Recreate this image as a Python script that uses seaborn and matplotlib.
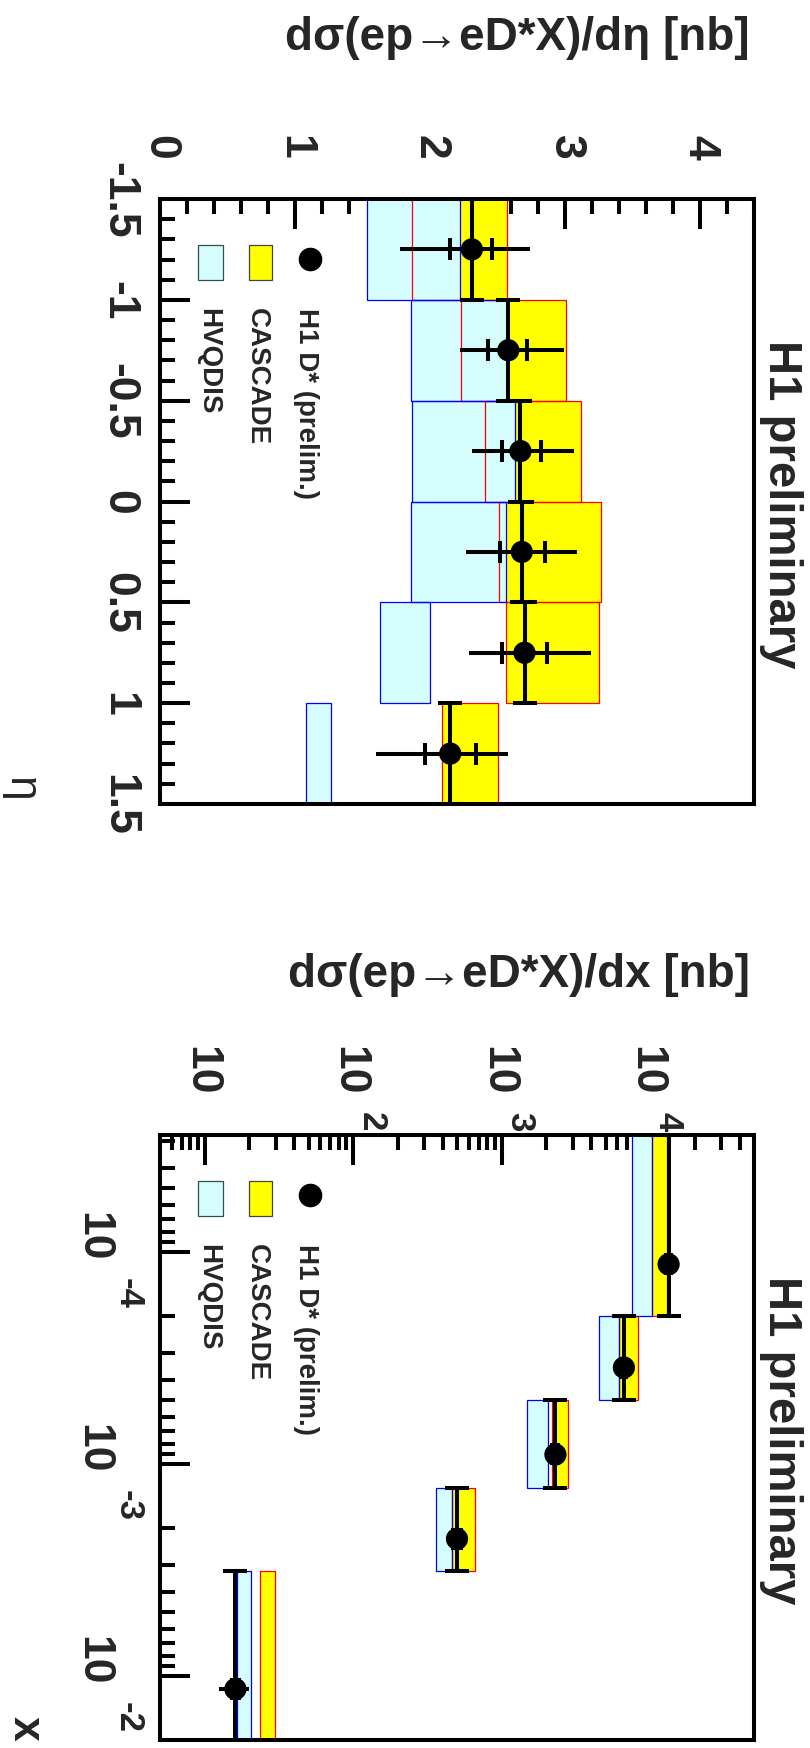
import numpy as np
import matplotlib
matplotlib.use('Agg')
import matplotlib.pyplot as plt
import seaborn as sns
from matplotlib.ticker import MultipleLocator, LogLocator, NullFormatter
from matplotlib.patches import Rectangle
from matplotlib.lines import Line2D

# ---- d sigma / d eta ----
eta_edges = [-1.5, -1.0, -0.5, 0.0, 0.5, 1.0, 1.5]
eta_centers = [-1.25, -0.75, -0.25, 0.25, 0.75, 1.25]
h1_eta = [2.31, 2.58, 2.67, 2.68, 2.70, 2.15]
h1_eta_stat_lo = [0.16, 0.15, 0.14, 0.16, 0.17, 0.19]
h1_eta_stat_hi = [0.15, 0.14, 0.15, 0.17, 0.17, 0.19]
h1_eta_tot_lo = [0.53, 0.36, 0.36, 0.41, 0.41, 0.55]
h1_eta_tot_hi = [0.43, 0.41, 0.40, 0.41, 0.49, 0.43]
hvqdis_eta_lo = [1.53, 1.86, 1.87, 1.86, 1.63, 1.08]
hvqdis_eta_hi = [2.22, 2.57, 2.63, 2.56, 2.00, 1.27]
cascade_eta_lo = [1.87, 2.23, 2.41, 2.51, 2.56, 2.09]
cascade_eta_hi = [2.57, 3.01, 3.12, 3.27, 3.25, 2.50]
eta_ticks = [-1.5, -1.0, -0.5, 0.0, 0.5, 1.0, 1.5]
eta_tick_labels = ['-1.5', '-1', '-0.5', '0', '0.5', '1', '1.5']
sig_eta_ticks = [0, 1, 2, 3, 4]
sig_eta_tick_labels = ['0', '1', '2', '3', '4']

# ---- d sigma / dx ----
x_edges = [2.8e-5, 2.0e-4, 5.0e-4, 1.3e-3, 3.2e-3, 2.0e-2]
x_centers = [1.14e-4, 3.5e-4, 9.0e-4, 2.25e-3, 1.15e-2]
h1_x = [13300, 6650, 2300, 500, 16.1]
h1_x_stat = [500, 260, 110, 30, 0.8]
h1_x_tot = [1200, 600, 230, 60, 3.7]
hvqdis_x_lo = [7500, 4500, 1490, 360, 16.5]
hvqdis_x_hi = [10300, 6200, 2050, 460, 20.5]
cascade_x_lo = [10300, 6200, 2170, 465, 23.7]
cascade_x_hi = [13000, 8300, 2810, 660, 29.6]
x_ticks = [1e-4, 1e-3, 1e-2]
x_exps = ['-4', '-3', '-2']
sig_x_ticks = [1e1, 1e2, 1e3, 1e4]
sig_x_exps = ['', '2', '3', '4']

CYAN = '#d6fdfd'
YELLOW = '#ffff00'
LW = 2.9

sns.set_style('ticks')
plt.rcParams['font.family'] = ['Liberation Sans', 'DejaVu Sans']
plt.rcParams['font.weight'] = 'bold'
plt.rcParams['axes.unicode_minus'] = False

W, H = 810, 1749
fig = plt.figure(figsize=(W / 100, H / 100), dpi=100)


def fx(px):
    return px / W


def fy(py):
    return 1 - py / H


def make_axes(top):
    ax = fig.add_axes([fx(160), fy(top + 605), (754 - 160) / W, 605 / H])
    for s in ax.spines.values():
        s.set_linewidth(LW)
        s.set_color('black')
    ax.set_axisbelow(True)
    ax.xaxis.set_ticks_position('top')
    ax.tick_params(which='both', direction='in', width=LW, color='black',
                   top=True, bottom=False, left=True, right=False,
                   labeltop=True, labelbottom=False)
    ax.tick_params(which='major', length=21.6)
    ax.tick_params(which='minor', length=10.8)
    return ax


def draw_boxes(ax, edges, lo1, hi1, lo2, hi2):
    y0 = np.array(edges[:-1])
    hgt = np.diff(edges)
    # CASCADE fill, HVQDIS fill, then both outlines
    ax.barh(y0, np.array(hi2) - np.array(lo2), left=lo2, height=hgt, align='edge',
            color=YELLOW, linewidth=0, zorder=1)
    ax.barh(y0, np.array(hi1) - np.array(lo1), left=lo1, height=hgt, align='edge',
            color=CYAN, linewidth=0, zorder=1.1)
    ax.barh(y0, np.array(hi2) - np.array(lo2), left=lo2, height=hgt, align='edge',
            fill=False, edgecolor='red', linewidth=0.9, zorder=1.2)
    ax.barh(y0, np.array(hi1) - np.array(lo1), left=lo1, height=hgt, align='edge',
            fill=False, edgecolor='blue', linewidth=0.9, zorder=1.3)


def draw_points(ax, val, centers, edges, stat_lo, stat_hi, tot_lo, tot_hi):
    val = np.array(val)
    centers = np.array(centers)
    yerr = [centers - np.array(edges[:-1]), np.array(edges[1:]) - centers]
    ax.errorbar(val, centers, yerr=yerr, fmt='none', ecolor='black',
                elinewidth=LW, capsize=8.3, capthick=LW, zorder=3)
    ax.errorbar(val, centers, xerr=[tot_lo, tot_hi], fmt='none', ecolor='black',
                elinewidth=LW, capsize=0, zorder=3)
    ax.plot(val - np.array(stat_lo), centers, '|', ms=16, mew=LW, color='black', zorder=3)
    ax.plot(val + np.array(stat_hi), centers, '|', ms=16, mew=LW, color='black', zorder=3)
    sns.scatterplot(x=val, y=centers, ax=ax, color='black', s=16 ** 2,
                    edgecolor='none', zorder=4, legend=False)


def draw_legend(top):
    fig.add_artist(Line2D([fx(310)], [fy(top + 60)], marker='o', ms=16,
                          color='black', transform=fig.transFigure))
    fig.add_artist(Rectangle((fx(249), fy(top + 81)), 23 / W, 35 / H, facecolor=YELLOW,
                             edgecolor='#444444', lw=0.9, transform=fig.transFigure))
    fig.add_artist(Rectangle((fx(198), fy(top + 81)), 25 / W, 35 / H, facecolor=CYAN,
                             edgecolor='#2f4f4f', lw=0.9, transform=fig.transFigure))
    for xc, txt in [(306, 'H1 D* (prelim.)'), (257, 'CASCADE'), (208, 'HVQDIS')]:
        fig.text(fx(xc), fy(top + 108), txt, rotation=-90, ha='center', va='top',
                 fontsize=20, fontweight='bold')


# ================= top panel: eta =================
ax1 = make_axes(200)
draw_boxes(ax1, eta_edges, hvqdis_eta_lo, hvqdis_eta_hi, cascade_eta_lo, cascade_eta_hi)
draw_points(ax1, h1_eta, eta_centers, eta_edges, h1_eta_stat_lo, h1_eta_stat_hi,
            h1_eta_tot_lo, h1_eta_tot_hi)
ax1.set_xlim(0, 4.4)
ax1.set_ylim(1.5, -1.5)
ax1.set_xticks(sig_eta_ticks, labels=sig_eta_tick_labels)
ax1.set_yticks(eta_ticks, labels=eta_tick_labels)
ax1.xaxis.set_minor_locator(MultipleLocator(0.2))
ax1.yaxis.set_minor_locator(MultipleLocator(0.1))
ax1.tick_params(axis='x', which='major', pad=28.8, labelsize=32)
ax1.tick_params(axis='y', which='major', pad=15, labelsize=32)
plt.setp(ax1.get_xticklabels(), rotation=-90, ha='center', va='bottom')
plt.setp(ax1.get_yticklabels(), rotation=-90, ha='right', va='center')
ax1.set_xlabel('')
ax1.set_ylabel('')
draw_legend(200)

fig.text(fx(750), fy(50), 'dσ(ep→eD*X)/dη [nb]', ha='right', va='baseline',
         fontsize=33, fontweight='bold')
fig.text(fx(781), fy(504), 'H1 preliminary', rotation=-90, ha='center', va='center',
         fontsize=34, fontweight='bold')
fig.text(fx(20), fy(789), 'η', rotation=-90, ha='center', va='center',
         fontsize=32, fontweight='normal')

# ================= bottom panel: x =================
ax2 = make_axes(1136)
ax2.set_xscale('log')
ax2.set_yscale('log')
draw_boxes(ax2, x_edges, hvqdis_x_lo, hvqdis_x_hi, cascade_x_lo, cascade_x_hi)
draw_points(ax2, h1_x, x_centers, x_edges, h1_x_stat, h1_x_stat, h1_x_tot, h1_x_tot)
ax2.set_xlim(5, 5e4)
ax2.set_ylim(2.0e-2, 2.8e-5)
for axis in (ax2.xaxis, ax2.yaxis):
    axis.set_major_locator(LogLocator(base=10, numticks=12))
    axis.set_minor_locator(LogLocator(base=10, subs=np.arange(2, 10), numticks=12))
    axis.set_major_formatter(NullFormatter())
    axis.set_minor_formatter(NullFormatter())
ax2.tick_params(labeltop=False, labelleft=False)
ax2.set_xlabel('')
ax2.set_ylabel('')

for t, e in zip(sig_x_ticks, sig_x_exps):
    ax2.annotate('10', xy=(t, 1), xycoords=('data', 'axes fraction'), xytext=(-4, 65),
                 textcoords='offset pixels', rotation=-90, ha='center', va='center',
                 fontsize=32, fontweight='bold', annotation_clip=False)
    if e:
        ax2.annotate(e, xy=(t, 1), xycoords=('data', 'axes fraction'), xytext=(18, 14),
                     textcoords='offset pixels', rotation=-90, ha='center', va='center',
                     fontsize=25, fontweight='bold', annotation_clip=False)
for t, e in zip(x_ticks, x_exps):
    ax2.annotate('10', xy=(0, t), xycoords=('axes fraction', 'data'), xytext=(-67, 16),
                 textcoords='offset pixels', rotation=-90, ha='center', va='center',
                 fontsize=32, fontweight='bold', annotation_clip=False)
    ax2.annotate(e, xy=(0, t), xycoords=('axes fraction', 'data'), xytext=(-32, -40),
                 textcoords='offset pixels', rotation=-90, ha='center', va='center',
                 fontsize=25, fontweight='bold', annotation_clip=False)
draw_legend(1136)

fig.text(fx(750), fy(987), 'dσ(ep→eD*X)/dx [nb]', ha='right', va='baseline',
         fontsize=33, fontweight='bold')
fig.text(fx(781), fy(1440), 'H1 preliminary', rotation=-90, ha='center', va='center',
         fontsize=34, fontweight='bold')
fig.text(fx(25), fy(1728), 'x', rotation=-90, ha='center', va='center',
         fontsize=32, fontweight='bold')

fig.savefig('out.png', dpi=100)
